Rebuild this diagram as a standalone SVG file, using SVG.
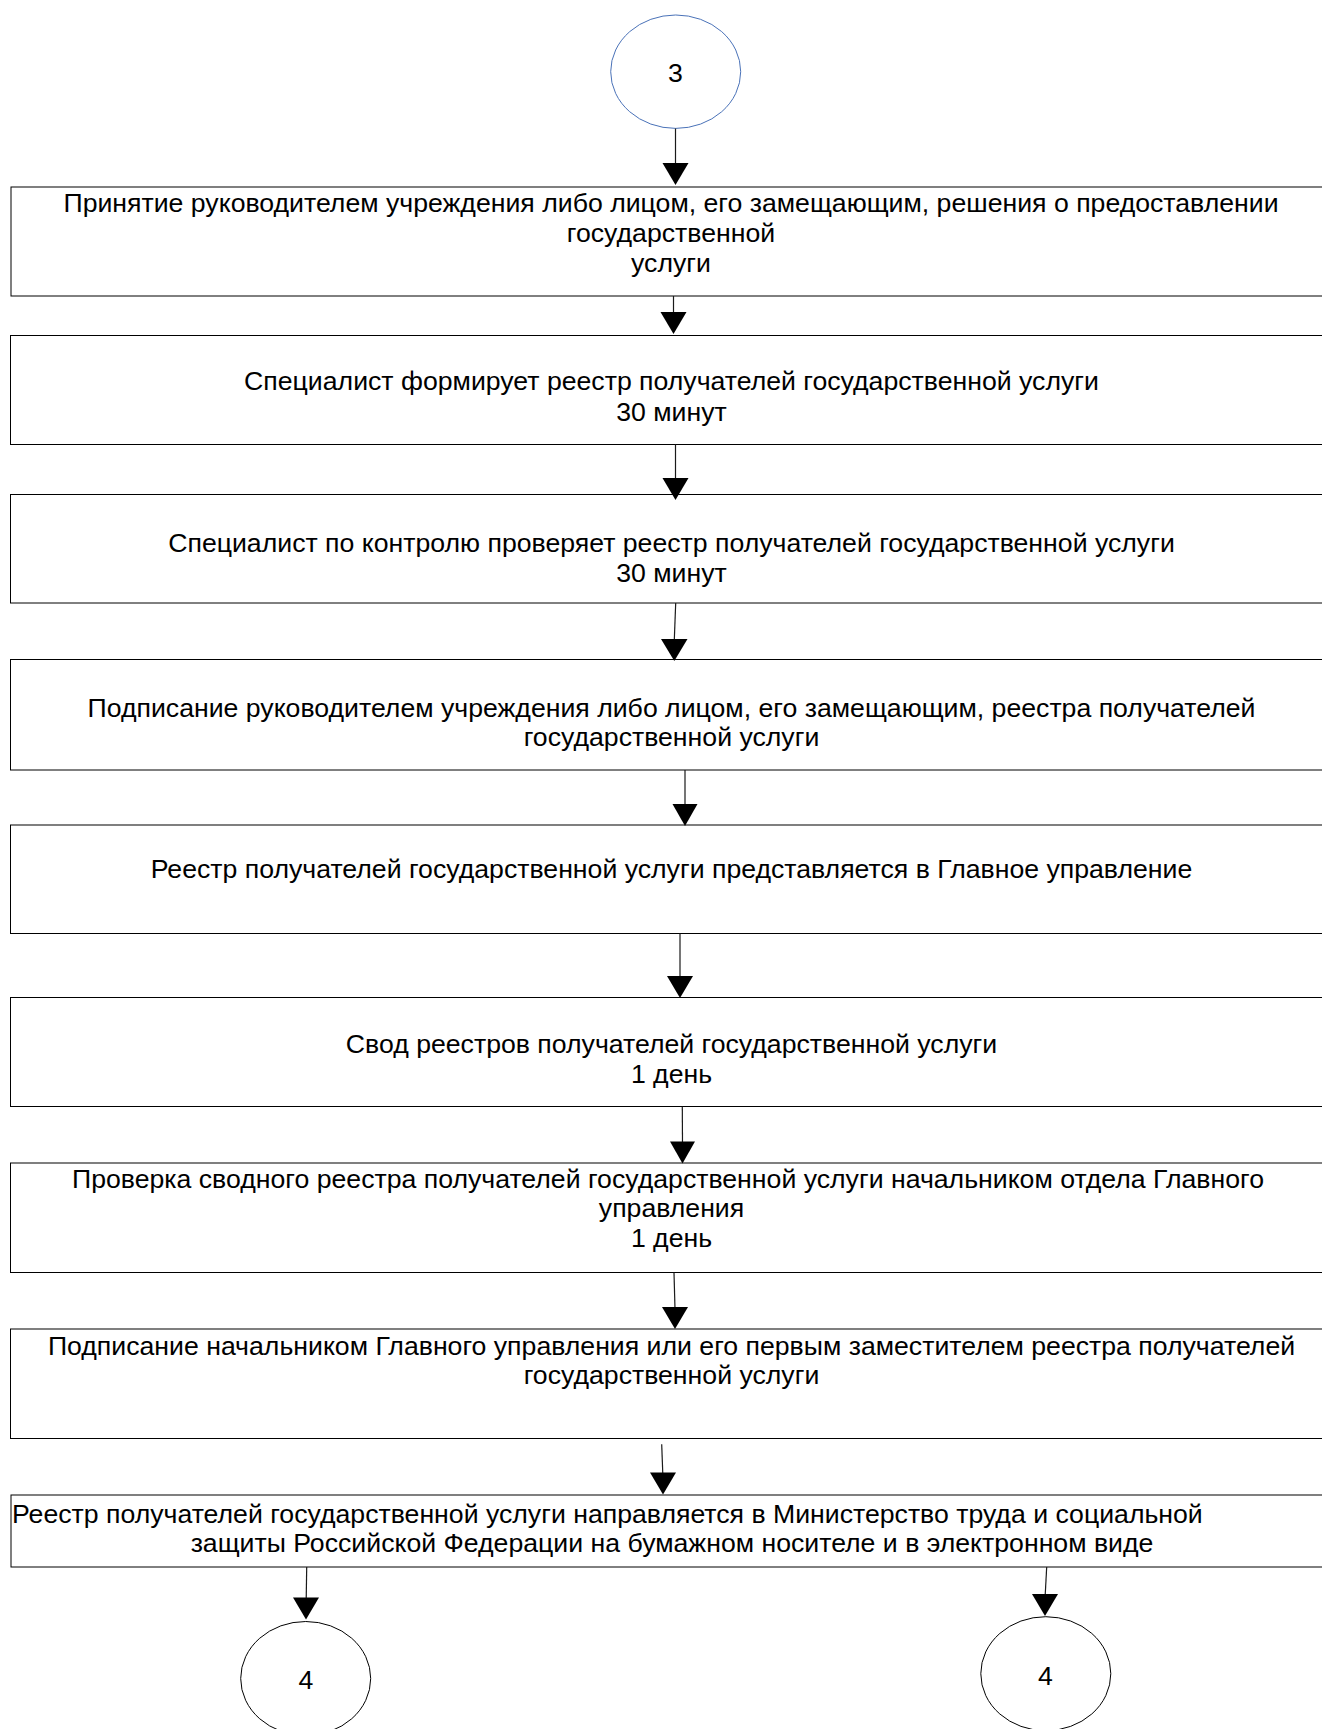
<svg xmlns="http://www.w3.org/2000/svg" width="1322" height="1729" viewBox="0 0 1322 1729">
<style>
.box{fill:#ffffff;stroke:#000000;stroke-width:1}
.t{font-family:"Liberation Sans",Arial,sans-serif;font-size:26.67px;fill:#000000;text-anchor:middle}
.ts{font-family:"Liberation Sans",Arial,sans-serif;font-size:26.67px;fill:#000000;text-anchor:start}
.c{fill:#ffffff;stroke:#000000;stroke-width:1}
.cb{fill:#ffffff;stroke:#4a72b8;stroke-width:1}
.ln{stroke:#1a1a1a;stroke-width:1.2;fill:none}
.ah{fill:#000000}
</style>
<rect width="1322" height="1729" fill="#ffffff"/>
<g id="start3">
<ellipse class="cb" cx="675.7" cy="71.7" rx="65" ry="56.7"/>
<text class="t" x="675.5" y="81.5">3</text>
</g>
<g id="step1">
<rect class="box" x="11" y="187" width="1330" height="109"/>
<text class="t" x="671" y="212">Принятие руководителем учреждения либо лицом, его замещающим, решения о предоставлении</text>
<text class="t" x="671" y="242">государственной</text>
<text class="t" x="671" y="272">услуги</text>
</g>
<g id="step2">
<rect class="box" x="10.5" y="335.5" width="1330" height="109"/>
<text class="t" x="671.5" y="390">Специалист формирует реестр получателей государственной услуги</text>
<text class="t" x="671.5" y="421">30 минут</text>
</g>
<g id="step3">
<rect class="box" x="10.5" y="494.5" width="1330" height="108.5"/>
<text class="t" x="671.5" y="552">Специалист по контролю проверяет реестр получателей государственной услуги</text>
<text class="t" x="671.5" y="582">30 минут</text>
</g>
<g id="step4">
<rect class="box" x="10.5" y="659.5" width="1330" height="110.5"/>
<text class="t" x="671.5" y="717">Подписание руководителем учреждения либо лицом, его замещающим, реестра получателей</text>
<text class="t" x="671.5" y="746">государственной услуги</text>
</g>
<g id="step5">
<rect class="box" x="10.5" y="825" width="1330" height="108.5"/>
<text class="t" x="671.5" y="878">Реестр получателей государственной услуги представляется в Главное управление</text>
</g>
<g id="step6">
<rect class="box" x="10.5" y="997.5" width="1330" height="109"/>
<text class="t" x="671.5" y="1053">Свод реестров получателей государственной услуги</text>
<text class="t" x="671.5" y="1083">1 день</text>
</g>
<g id="step7">
<rect class="box" x="10.5" y="1163" width="1330" height="109.5"/>
<text class="t" x="668" y="1188">Проверка сводного реестра получателей государственной услуги начальником отдела Главного</text>
<text class="t" x="671.5" y="1217">управления</text>
<text class="t" x="671.5" y="1247">1 день</text>
</g>
<g id="step8">
<rect class="box" x="10.5" y="1329" width="1330" height="109.5"/>
<text class="t" x="671.5" y="1355">Подписание начальником Главного управления или его первым заместителем реестра получателей</text>
<text class="t" x="671.5" y="1384">государственной услуги</text>
</g>
<g id="step9">
<rect class="box" x="11" y="1495" width="1330" height="72"/>
<text class="ts" x="12" y="1523">Реестр получателей государственной услуги направляется в Министерство труда и социальной</text>
<text class="t" x="672" y="1552">защиты Российской Федерации на бумажном носителе и в электронном виде</text>
</g>
<g id="end4a">
<ellipse class="c" cx="305.7" cy="1678.5" rx="65" ry="57"/>
<text class="t" x="306" y="1689">4</text>
</g>
<g id="end4b">
<ellipse class="c" cx="1045.8" cy="1673.7" rx="65" ry="57"/>
<text class="t" x="1045.5" y="1685">4</text>
</g>
<g id="connectors">
<line class="ln" x1="675.5" y1="128.5" x2="675.5" y2="165"/>
<polygon class="ah" points="662.5,163 688.5,163 675.5,185"/>
<line class="ln" x1="673.5" y1="296" x2="673.5" y2="313"/>
<polygon class="ah" points="660.5,312 686.5,312 673.5,334"/>
<line class="ln" x1="675.5" y1="444.5" x2="675.5" y2="480"/>
<polygon class="ah" points="662.5,478 688.5,478 675.5,500"/>
<line class="ln" x1="675.7" y1="603" x2="674.3" y2="640"/>
<polygon class="ah" points="661,639 687.5,639 674.3,661"/>
<line class="ln" x1="685" y1="770" x2="685" y2="806"/>
<polygon class="ah" points="672.5,804 697.5,804 685,826"/>
<line class="ln" x1="680" y1="933.5" x2="680" y2="978"/>
<polygon class="ah" points="667,976 693,976 680,998"/>
<line class="ln" x1="682.3" y1="1106.7" x2="682.5" y2="1143"/>
<polygon class="ah" points="670,1141.5 695,1141.5 682.5,1163.5"/>
<line class="ln" x1="674" y1="1272.7" x2="675" y2="1309"/>
<polygon class="ah" points="662,1307 688,1307 675,1329"/>
<line class="ln" x1="661.7" y1="1444.3" x2="662.8" y2="1474"/>
<polygon class="ah" points="650,1472.5 676,1472.5 663,1494.5"/>
<line class="ln" x1="306.7" y1="1567" x2="306.2" y2="1599"/>
<polygon class="ah" points="293,1597.5 319,1597.5 306,1619.5"/>
<line class="ln" x1="1046.7" y1="1567" x2="1045.2" y2="1595"/>
<polygon class="ah" points="1032,1594 1058,1594 1045,1616"/>
</g>
</svg>
